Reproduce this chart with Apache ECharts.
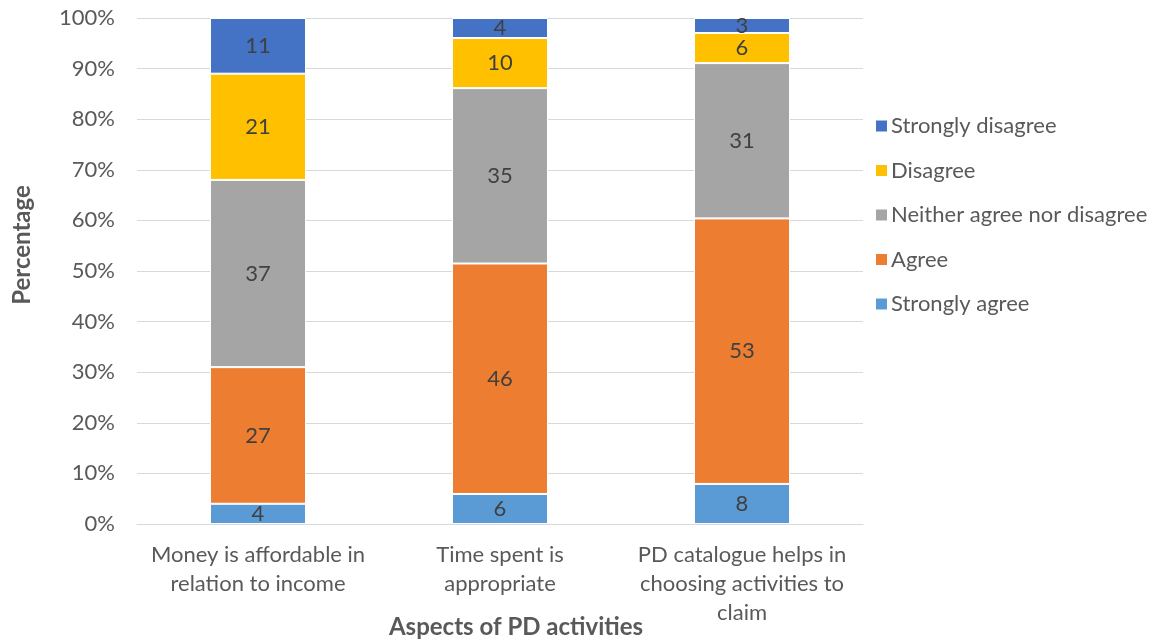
<!DOCTYPE html>
<html>
<head>
<meta charset="utf-8">
<script src="https://cdn.jsdelivr.net/npm/echarts@6/dist/echarts.min.js"></script>
<style>
  html, body { margin: 0; padding: 0; background: #fff; }
  #chart { width: 1159px; height: 639px; }
</style>
</head>
<body>
<div id="chart"></div>
<script>
// Survey responses per aspect (counts shown on the bars)
const categories = [
  'Money is affordable in\nrelation to income',
  'Time spent is\nappropriate',
  'PD catalogue helps in\nchoosing activities to\nclaim'
];
const strongAgree    = [4, 6, 8];
const agree          = [27, 46, 53];
const neither        = [37, 35, 31];
const disagree       = [21, 10, 6];
const strongDisagree = [11, 4, 3];
const yTickLabels = ['0%', '10%', '20%', '30%', '40%', '50%', '60%', '70%', '80%', '90%', '100%'];

const seriesDefs = [
  { name: 'Strongly agree', values: strongAgree, color: '#5B9BD5' },
  { name: 'Agree', values: agree, color: '#ED7D31' },
  { name: 'Neither agree nor disagree', values: neither, color: '#A5A5A5' },
  { name: 'Disagree', values: disagree, color: '#FFC000' },
  { name: 'Strongly disagree', values: strongDisagree, color: '#4472C4' }
];

// Column totals, used to stack each column to 100%
const totals = categories.map((_, i) =>
  seriesDefs.reduce((s, d) => s + d.values[i], 0));

const FONT = 'Lato, "Open Sans", sans-serif';
const FS = 22;

const chart = echarts.init(document.getElementById('chart'));
chart.setOption({
  animation: false,
  textStyle: { fontFamily: FONT },
  grid: { left: 137, right: 296, top: 18, bottom: 115, containLabel: false },
  legend: {
    orient: 'vertical',
    left: 869,
    top: 110,
    itemWidth: 13,
    itemHeight: 13,
    itemGap: 22.5,
    icon: 'rect',
    data: seriesDefs.map(d => d.name).reverse(),
    textStyle: { fontSize: FS, color: '#595959', fontFamily: FONT, lineHeight: 20, padding: [0, 0, 0, -2] }
  },
  xAxis: {
    type: 'category',
    data: categories,
    axisLine: { lineStyle: { color: '#D9D9D9', width: 1 } },
    axisTick: { show: false },
    axisLabel: { fontSize: FS, color: '#595959', lineHeight: 29, margin: 16, interval: 0, fontFamily: FONT }
  },
  yAxis: {
    type: 'value',
    min: 0,
    max: 100,
    interval: 10,
    axisLine: { show: false },
    axisTick: { show: false },
    splitLine: { lineStyle: { color: '#D9D9D9', width: 1 } },
    axisLabel: {
      fontSize: FS, color: '#595959', margin: 22, fontFamily: FONT,
      formatter: v => yTickLabels[Math.round(v / 10)]
    }
  },
  graphic: [
    {
      type: 'text',
      x: 22, y: 245,
      rotation: Math.PI / 2,
      style: {
        text: 'Percentage', x: 0, y: 0, fontSize: 24, fontWeight: 'bold',
        fill: '#595959', fontFamily: FONT, align: 'center', verticalAlign: 'middle'
      }
    },
    {
      type: 'text',
      x: 516, y: 627,
      style: {
        text: 'Aspects of PD activities', x: 0, y: 0, fontSize: 24, fontWeight: 'bold',
        fill: '#595959', fontFamily: FONT, align: 'center', verticalAlign: 'middle'
      }
    }
  ],
  series: seriesDefs.map(d => ({
    name: d.name,
    type: 'bar',
    stack: 'total',
    barWidth: 96,
    itemStyle: { color: d.color, borderColor: '#fff', borderWidth: 1 },
    label: {
      show: true,
      position: 'inside',
      color: '#404040',
      fontSize: FS,
      fontFamily: FONT,
      formatter: p => String(d.values[p.dataIndex])
    },
    labelLayout: { hideOverlap: false },
    data: d.values.map((v, i) => v / totals[i] * 100)
  }))
});
</script>
</body>
</html>
